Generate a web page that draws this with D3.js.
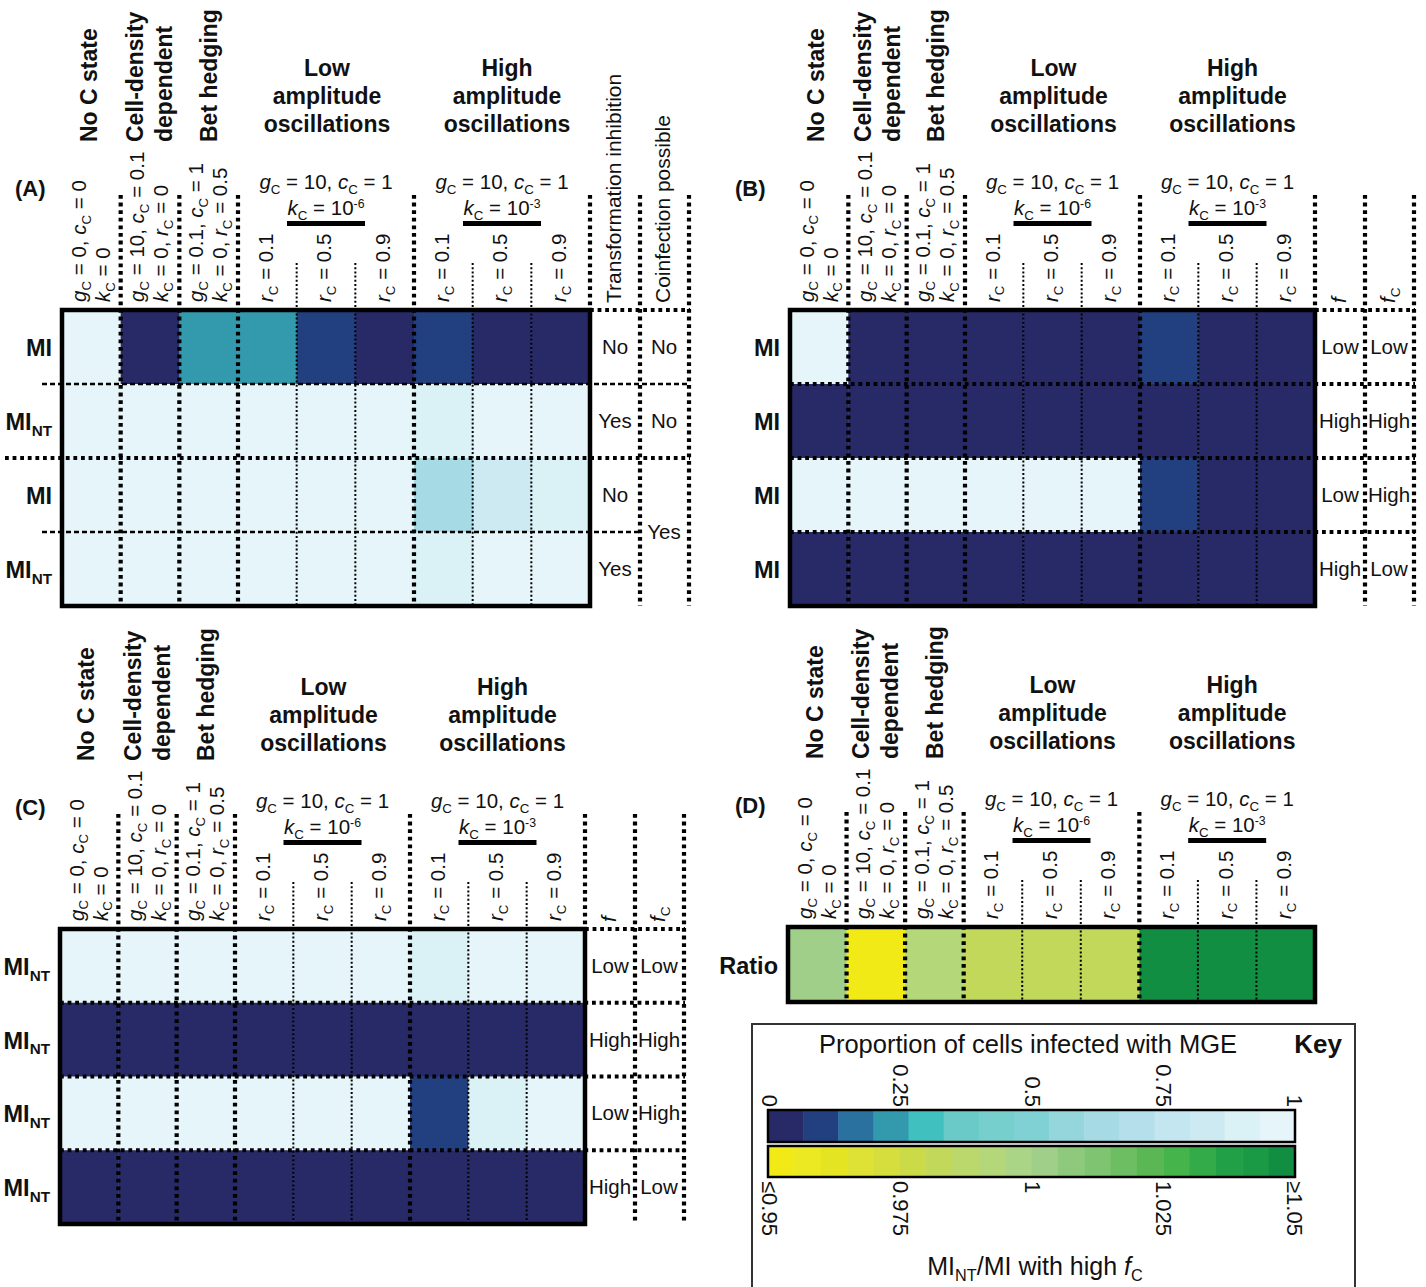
<!DOCTYPE html>
<html>
<head>
<meta charset="utf-8">
<script src="https://cdn.jsdelivr.net/npm/d3@7"></script>
<style>
  body { margin: 0; background: #fff; }
  svg { display: block; }
  text { font-family: "Liberation Sans", Arial, Helvetica, sans-serif; fill: #111; white-space: pre; }
</style>
</head>
<body>
<div id="chart"></div>
<script>
const width = 1426;
const height = 1287;
const fontSize = 20.5;
const titleSize = 23;

// colour keys
const propColors = ["#282a68", "#223f80", "#2b71a0", "#339aae", "#40c1c0", "#69cac7", "#76cfcd",
  "#80d1d4", "#94d6dc", "#a6dbe6", "#b5dfeb", "#c3e6f1", "#cde9f1", "#daf1f6", "#e6f5f9"];
const ratioColors = ["#f2ea16", "#ece821", "#e5e423", "#dde234", "#d5de3d", "#cbdb48", "#c1d85a",
  "#bad86c", "#b4d77a", "#aad486", "#9fcf88", "#8ec97c", "#7fc571", "#6dbd63", "#5bb654",
  "#45b44a", "#34ab49", "#22a047", "#1b9a45", "#128e43"];
const propTicks = [0, 0.25, 0.5, 0.75, 1];
const ratioTicks = [0.95, 0.975, 1, 1.025, 1.05];
const ratioTickLabels = ["≤0.95", "0.975", "1", "1.025", "≥1.05"];

// column headers
const stateTitles = [["No C state"], ["Cell-density", "dependent"], ["Bet hedging"]];
const oscTitles = [["Low", "amplitude", "oscillations"], ["High", "amplitude", "oscillations"]];
const oscParams = [
  ["*g*_{C} = 10, *c*_{C} = 1", "*k*_{C} = 10^{-6}"],
  ["*g*_{C} = 10, *c*_{C} = 1", "*k*_{C} = 10^{-3}"]
];
const colParams = [
  ["*g*_{C} = 0, *c*_{C} = 0", "*k*_{C} = 0"],
  ["*g*_{C} = 10, *c*_{C} = 0.1", "*k*_{C} = 0, *r*_{C} = 0"],
  ["*g*_{C} = 0.1, *c*_{C} = 1", "*k*_{C} = 0, *r*_{C} = 0.5"],
  ["*r*_{C} = 0.1"], ["*r*_{C} = 0.5"], ["*r*_{C} = 0.9"],
  ["*r*_{C} = 0.1"], ["*r*_{C} = 0.5"], ["*r*_{C} = 0.9"]
];

// (A) proportion infected
const rowsA = ["MI", "MI_{NT}", "MI", "MI_{NT}"];
const valuesA = [
  [1, 0, 0.22, 0.22, 0.1, 0, 0.1, 0, 0],
  [1, 1, 1, 1, 1, 1, 0.9, 1, 1],
  [1, 1, 1, 1, 1, 1, 0.65, 0.85, 0.9],
  [1, 1, 1, 1, 1, 1, 0.9, 1, 1]
];
const inhibitionA = ["No", "Yes", "No", "Yes"];
const coinfectionA = ["No", "No", "Yes"];
const coinfectionSpanA = [1, 1, 2];

// (B)
const rowsB = ["MI", "MI", "MI", "MI"];
const valuesB = [
  [1, 0, 0, 0, 0, 0, 0.1, 0, 0],
  [0, 0, 0, 0, 0, 0, 0, 0, 0],
  [1, 1, 1, 1, 1, 1, 0.1, 0, 0],
  [0, 0, 0, 0, 0, 0, 0, 0, 0]
];
const fB = ["Low", "High", "Low", "High"];
const fcB = ["Low", "High", "High", "Low"];

// (C)
const rowsC = ["MI_{NT}", "MI_{NT}", "MI_{NT}", "MI_{NT}"];
const valuesC = [
  [1, 1, 1, 1, 1, 1, 0.9, 1, 1],
  [0, 0, 0, 0, 0, 0, 0, 0, 0],
  [1, 1, 1, 1, 1, 1, 0.1, 0.9, 1],
  [0, 0, 0, 0, 0, 0, 0, 0, 0]
];
const fC = ["Low", "High", "Low", "High"];
const fcC = ["Low", "High", "High", "Low"];

// (D) ratio
const rowsD = ["Ratio"];
const ratioD = [[1.002, 0.95, 0.992, 0.982, 0.982, 0.982, 1.05, 1.05, 1.05]];

const propColor = d3.scaleQuantize().domain([0, 1]).range(propColors);
const ratioColor = d3.scaleQuantize().domain([0.95, 1.05]).range(ratioColors);

const svg = d3.select("#chart").append("svg")
  .attr("width", width).attr("height", height)
  .attr("viewBox", [0, 0, width, height]);

// line styles
const thick = { w: 4.2, dash: "3.8,3.8" };
const thin = { w: 2, dash: "2,2.2" };
const dashed = { w: 2.5, dash: "5,3" };

function line(g, x1, y1, x2, y2, st) {
  g.append("line")
    .attr("x1", x1).attr("y1", y1).attr("x2", x2).attr("y2", y2)
    .attr("stroke", "#000").attr("stroke-width", st.w)
    .attr("stroke-dasharray", st.dash);
}

// tiny markup: *italic*, _{sub}, ^{sup}
function rich(text, str, size, bold) {
  let shift = 0;
  str.split(/(\*[^*]+\*|_\{[^}]*\}|\^\{[^}]*\})/).filter(s => s !== "").forEach(tok => {
    let s = tok, fs = size, target = 0, italic = false;
    if (tok[0] === "*") { s = tok.slice(1, -1); italic = true; }
    else if (tok.startsWith("_{")) { s = tok.slice(2, -1); fs = size * 0.65; target = size * 0.24; }
    else if (tok.startsWith("^{")) { s = tok.slice(2, -1); fs = size * 0.6; target = -size * 0.36; }
    const t = text.append("tspan").text(s).attr("font-size", fs);
    if (italic) t.attr("font-style", "italic");
    if (target !== shift) { t.attr("dy", target - shift); shift = target; }
  });
  text.attr("font-size", size).attr("font-weight", bold ? "bold" : null);
  return text;
}

// rotated text reading upwards, glyphs centred on cx, starting at y
function upText(g, cx, y, str, size, bold) {
  const t = g.append("text").attr("transform", `translate(${cx + size * 0.36},${y}) rotate(-90)`);
  return rich(t, str, size, bold);
}

function drawPanel(cfg) {
  const g = svg.append("g").attr("transform", `translate(${cfg.x},${cfg.y})`);
  const nRows = cfg.values.length;
  const W = cfg.w, H = cfg.rowH * nRows;
  const x = d3.scaleBand().domain(d3.range(9)).range([0, W]);
  const y = d3.scaleBand().domain(d3.range(nRows)).range([0, H]);
  const cw = x.bandwidth();
  const cx = i => x(i) + cw / 2;

  // cells
  cfg.values.forEach((row, r) => {
    g.append("g").selectAll("rect").data(row).join("rect")
      .attr("x", (d, i) => x(i)).attr("y", y(r))
      .attr("width", cw + 0.5).attr("height", y.bandwidth() + 0.5)
      .attr("fill", d => cfg.color(d));
  });

  // panel letter
  g.append("text").attr("x", 15 - cfg.x + cfg.letterDx).attr("y", -114)
    .attr("font-size", 22).attr("font-weight", "bold").text(cfg.letter);

  // group titles (rotated)
  stateTitles.forEach((lines, i) => {
    lines.forEach((s, j) => {
      const off = lines.length === 1 ? (i === 0 ? -3 : 0) : (j === 0 ? -15 : 14);
      upText(g, cx(i) + off, -168, s, titleSize, true);
    });
  });
  oscTitles.forEach((lines, k) => {
    const c = (x(3 + 3 * k) + x(5 + 3 * k) + cw) / 2 + (k ? 5 : 1);
    lines.forEach((s, j) => {
      g.append("text").attr("x", c).attr("y", -234 + 28 * j)
        .attr("text-anchor", "middle").attr("font-size", titleSize)
        .attr("font-weight", "bold").text(s);
    });
    const pc = (x(3 + 3 * k) + x(5 + 3 * k) + cw) / 2;
    oscParams[k].forEach((s, j) => {
      rich(g.append("text").attr("x", pc).attr("y", -121 + 26 * j).attr("text-anchor", "middle"), s, fontSize);
    });
    g.append("rect").attr("x", pc - 39).attr("y", -89).attr("width", 78).attr("height", 5).attr("fill", "#000");
  });

  // column parameter labels
  colParams.forEach((lines, i) => {
    lines.forEach((s, j) => {
      const off = lines.length === 1 ? -2 : (j === 0 ? -13 : 11);
      upText(g, cx(i) + off, -8, s, fontSize);
    });
  });

  // vertical separators
  [1, 2, 3, 6].forEach(i => line(g, x(i), -115, x(i), H, thick));
  [4, 5, 7, 8].forEach(i => line(g, x(i), -47, x(i), H, thin));

  // right-hand table
  if (cfg.side) {
    line(g, W, -115, W, 0, thick);
    line(g, W + 50, -115, W + 50, H, thick);
    line(g, W + 99, -115, W + 99, H, thick);
    line(g, W, 0, W + 100, 0, thick);
    cfg.side.forEach((col, c) => {
      const sx = W + 25 + 49 * c;
      upText(g, sx - 2, -7, col.header, 21);
      let r0 = 0;
      col.labels.forEach((s, k) => {
        const span = col.spans ? col.spans[k] : 1;
        const cy = y(r0) + (y.bandwidth() * span) / 2;
        g.append("text").attr("x", sx).attr("y", cy + 7)
          .attr("text-anchor", "middle").attr("font-size", fontSize).text(s);
        r0 += span;
      });
    });
  }

  // row separators
  cfg.hLines.forEach((h, r) => line(g, h.x1, y(r + 1), h.x2, y(r + 1), h.st));

  // row labels
  cfg.rows.forEach((s, r) => {
    rich(g.append("text").attr("x", -10).attr("y", y(r) + y.bandwidth() / 2 + 9)
      .attr("text-anchor", "end"), s, 23.5, true);
  });

  // border
  g.append("rect").attr("width", W).attr("height", H)
    .attr("fill", "none").attr("stroke", "#000").attr("stroke-width", 4.5);
}

const allThick = w => d3.range(3).map(() => ({ st: thick, x1: 0, x2: w + 100 }));

drawPanel({
  letter: "(A)", letterDx: 0, x: 62, y: 310, w: 528, rowH: 74, rows: rowsA, values: valuesA, color: propColor,
  side: [
    { header: "Transformation inhibition", labels: inhibitionA },
    { header: "Coinfection possible", labels: coinfectionA, spans: coinfectionSpanA }
  ],
  hLines: [
    { st: dashed, x1: -20, x2: 528 + 100 },
    { st: thick, x1: -57, x2: 528 + 100 },
    { st: dashed, x1: -20, x2: 528 + 50 }
  ]
});

drawPanel({
  letter: "(B)", letterDx: 720, x: 790, y: 310, w: 525, rowH: 74, rows: rowsB, values: valuesB, color: propColor,
  side: [{ header: "*f*", labels: fB }, { header: "*f*_{C}", labels: fcB }],
  hLines: allThick(525)
});

drawPanel({
  letter: "(C)", letterDx: 0, x: 60, y: 929, w: 525, rowH: 73.75, rows: rowsC, values: valuesC, color: propColor,
  side: [{ header: "*f*", labels: fC }, { header: "*f*_{C}", labels: fcC }],
  hLines: allThick(525)
});

drawPanel({
  letter: "(D)", letterDx: 720, x: 788, y: 927, w: 527, rowH: 75, rows: rowsD, values: ratioD, color: ratioColor,
  side: null, hLines: []
});

// key
const key = svg.append("g");
key.append("rect").attr("x", 752).attr("y", 1024).attr("width", 603).attr("height", 290)
  .attr("fill", "none").attr("stroke", "#333").attr("stroke-width", 2);
key.append("text").attr("x", 1028).attr("y", 1053).attr("text-anchor", "middle")
  .attr("font-size", 25.5).text("Proportion of cells infected with MGE");
key.append("text").attr("x", 1318).attr("y", 1053).attr("text-anchor", "middle")
  .attr("font-size", 26).attr("font-weight", "bold").text("Key");

const kx0 = 768, kx1 = 1295;
const propBand = d3.scaleBand().domain(d3.range(propColors.length)).range([kx0, kx1]);
const ratioBand = d3.scaleBand().domain(d3.range(ratioColors.length)).range([kx0, kx1]);
key.append("g").selectAll("rect").data(propColors).join("rect")
  .attr("x", (d, i) => propBand(i)).attr("y", 1110)
  .attr("width", propBand.bandwidth() + 0.5).attr("height", 32).attr("fill", d => d);
key.append("g").selectAll("rect").data(ratioColors).join("rect")
  .attr("x", (d, i) => ratioBand(i)).attr("y", 1146)
  .attr("width", ratioBand.bandwidth() + 0.5).attr("height", 31).attr("fill", d => d);
[[1110, 32], [1146, 31]].forEach(([yy, hh]) => key.append("rect")
  .attr("x", kx0).attr("y", yy).attr("width", kx1 - kx0).attr("height", hh)
  .attr("fill", "none").attr("stroke", "#000").attr("stroke-width", 2.5));

const tickSize = 22;
const propX = d3.scaleLinear().domain([0, 1]).range([kx0 + 2, kx1]);
const ratioX = d3.scaleLinear().domain([0.95, 1.05]).range([kx0 + 2, kx1]);
propTicks.forEach(v => {
  key.append("text")
    .attr("transform", `translate(${propX(v) - tickSize * 0.36},1107) rotate(90)`)
    .attr("text-anchor", "end").attr("font-size", tickSize).text(String(v));
});
ratioTicks.forEach((v, i) => {
  key.append("text")
    .attr("transform", `translate(${ratioX(v) - tickSize * 0.36},1181) rotate(90)`)
    .attr("text-anchor", "start").attr("font-size", tickSize).text(ratioTickLabels[i]);
});
rich(key.append("text").attr("x", 1035).attr("y", 1275).attr("text-anchor", "middle"),
  "MI_{NT}/MI with high *f*_{C}", 25);
</script>
</body>
</html>
